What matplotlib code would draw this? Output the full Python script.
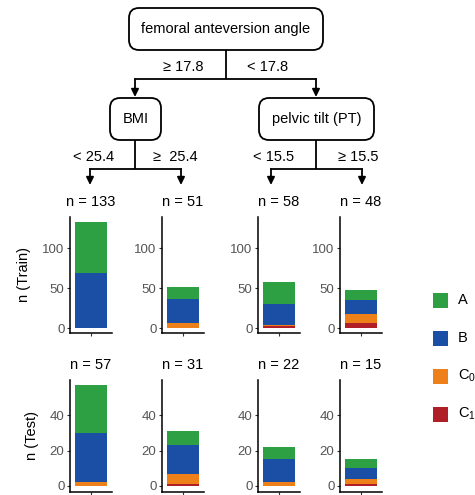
import matplotlib
matplotlib.use("Agg")
import matplotlib.pyplot as plt
from matplotlib.patches import FancyBboxPatch

plt.rcParams['font.family'] = ['Liberation Sans', 'DejaVu Sans']
plt.rcParams['mathtext.fontset'] = 'custom'
plt.rcParams['mathtext.rm'] = 'Liberation Sans'
plt.rcParams['mathtext.it'] = 'Liberation Sans'

W, H = 475, 495

# ---- data ----
classes = ['A', 'B', 'C0', 'C1']
class_labels = ['A', 'B', r'$\mathrm{C_0}$', r'$\mathrm{C_1}$']
colors = {'A': '#2ca043', 'B': '#1b4fa5', 'C0': '#ee8019', 'C1': '#b01e27'}
stack_order = ['C1', 'C0', 'B', 'A']  # bottom to top

train_A = [64, 14, 28, 13]
train_B = [69, 31, 26, 17]
train_C0 = [0, 6, 1, 11]
train_C1 = [0, 0, 3, 7]
train_n = [133, 51, 58, 48]

test_A = [27, 8, 7, 5]
test_B = [28, 16, 13, 6]
test_C0 = [2, 6, 2, 3]
test_C1 = [0, 1, 0, 1]
test_n = [57, 31, 22, 15]

root_label = 'femoral anteversion angle'
node_labels = ['BMI', 'pelvic tilt (PT)']
split_root = ['\u2265 17.8', '< 17.8']
split_left = ['< 25.4', '\u2265  25.4']
split_right = ['< 15.5', '\u2265 15.5']

train = {'A': train_A, 'B': train_B, 'C0': train_C0, 'C1': train_C1}
test = {'A': test_A, 'B': test_B, 'C0': test_C0, 'C1': test_C1}

fig = plt.figure(figsize=(W / 100, H / 100), dpi=100)

def px_axes(l, t, w, h):
    return fig.add_axes([l / W, 1 - (t + h) / H, w / W, h / H])

lefts = [70, 162, 258, 340]
axw = 42

rows = [
    dict(data=train, n=train_n, top=217, bottom=333, ylim=(-6, 139), ticks=[0, 50, 100], ylabel='n (Train)'),
    dict(data=test, n=test_n, top=380, bottom=492, ylim=(-3.4, 60), ticks=[0, 20, 40], ylabel='n (Test)'),
]

for r in rows:
    for i, l in enumerate(lefts):
        ax = px_axes(l, r['top'], axw, r['bottom'] - r['top'])
        bottom = 0
        for c in stack_order:
            v = r['data'][c][i]
            if v > 0:
                ax.bar(0, v, width=0.74, bottom=bottom, color=colors[c], edgecolor='none')
            bottom += v
        ax.set_xlim(-0.5, 0.5)
        ax.set_ylim(*r['ylim'])
        ax.set_xticks([0])
        ax.set_xticklabels([''])
        ax.set_yticks(r['ticks'])
        ax.tick_params(axis='both', length=2.5, width=0.8, color='#333333',
                       labelsize=9.5, labelcolor='#555555', pad=1.5)
        for s in ['top', 'right']:
            ax.spines[s].set_visible(False)
        for s in ['left', 'bottom']:
            ax.spines[s].set_linewidth(1.1)
            ax.spines[s].set_color('black')
        ax.set_title(f"n = {r['n'][i]}", fontsize=10.5, pad=8)
        ax.patch.set_alpha(0)
        if i == 0:
            ax.set_ylabel(r['ylabel'], fontsize=10.5, labelpad=8)

# ---- tree overlay ----
ov = fig.add_axes([0, 0, 1, 1], zorder=-1)
ov.set_xlim(0, W)
ov.set_ylim(H, 0)
ov.axis('off')

lw = 1.3

def box(x0, y0, x1, y1, text):
    p = FancyBboxPatch((x0, y0), x1 - x0, y1 - y0,
                       boxstyle='round,pad=0,rounding_size=10',
                       fc='white', ec='black', lw=lw)
    ov.add_patch(p)
    ov.text((x0 + x1) / 2, (y0 + y1) / 2, text, ha='center', va='center', fontsize=10.5)

def branch(xc, ytop, yh, xl, xr, yarrow):
    ov.plot([xc, xc], [ytop, yh], color='black', lw=lw, solid_capstyle='butt')
    ov.plot([xl, xr], [yh, yh], color='black', lw=lw, solid_capstyle='projecting')
    for x in (xl, xr):
        ov.annotate('', xy=(x, yarrow), xytext=(x, yh),
                    arrowprops=dict(arrowstyle='-|>,head_length=0.45,head_width=0.22',
                                    color='black', lw=lw, shrinkA=0, shrinkB=0))

box(129, 8, 323, 50, root_label)
branch(226, 50, 79, 135, 316, 97)
ov.text(183, 67, split_root[0], ha='center', va='center', fontsize=10.5)
ov.text(268, 67, split_root[1], ha='center', va='center', fontsize=10.5)

box(110, 98, 161, 140, node_labels[0])
branch(135, 140, 169, 90, 181, 185)
ov.text(94, 157, split_left[0], ha='center', va='center', fontsize=10.5)
ov.text(175, 157, split_left[1], ha='center', va='center', fontsize=10.5)

box(259, 98, 374, 140, node_labels[1])
branch(316, 140, 169, 271, 362, 185)
ov.text(274, 157, split_right[0], ha='center', va='center', fontsize=10.5)
ov.text(358, 157, split_right[1], ha='center', va='center', fontsize=10.5)

# ---- legend ----
leg_y = [300, 338, 376, 414]
for c, lab, y in zip(classes, class_labels, leg_y):
    ov.add_patch(plt.Rectangle((433, y - 7.5), 15, 15, fc=colors[c], ec='none'))
    ov.text(458, y, lab, ha='left', va='center', fontsize=10.5)

fig.savefig('out.png', dpi=100)
